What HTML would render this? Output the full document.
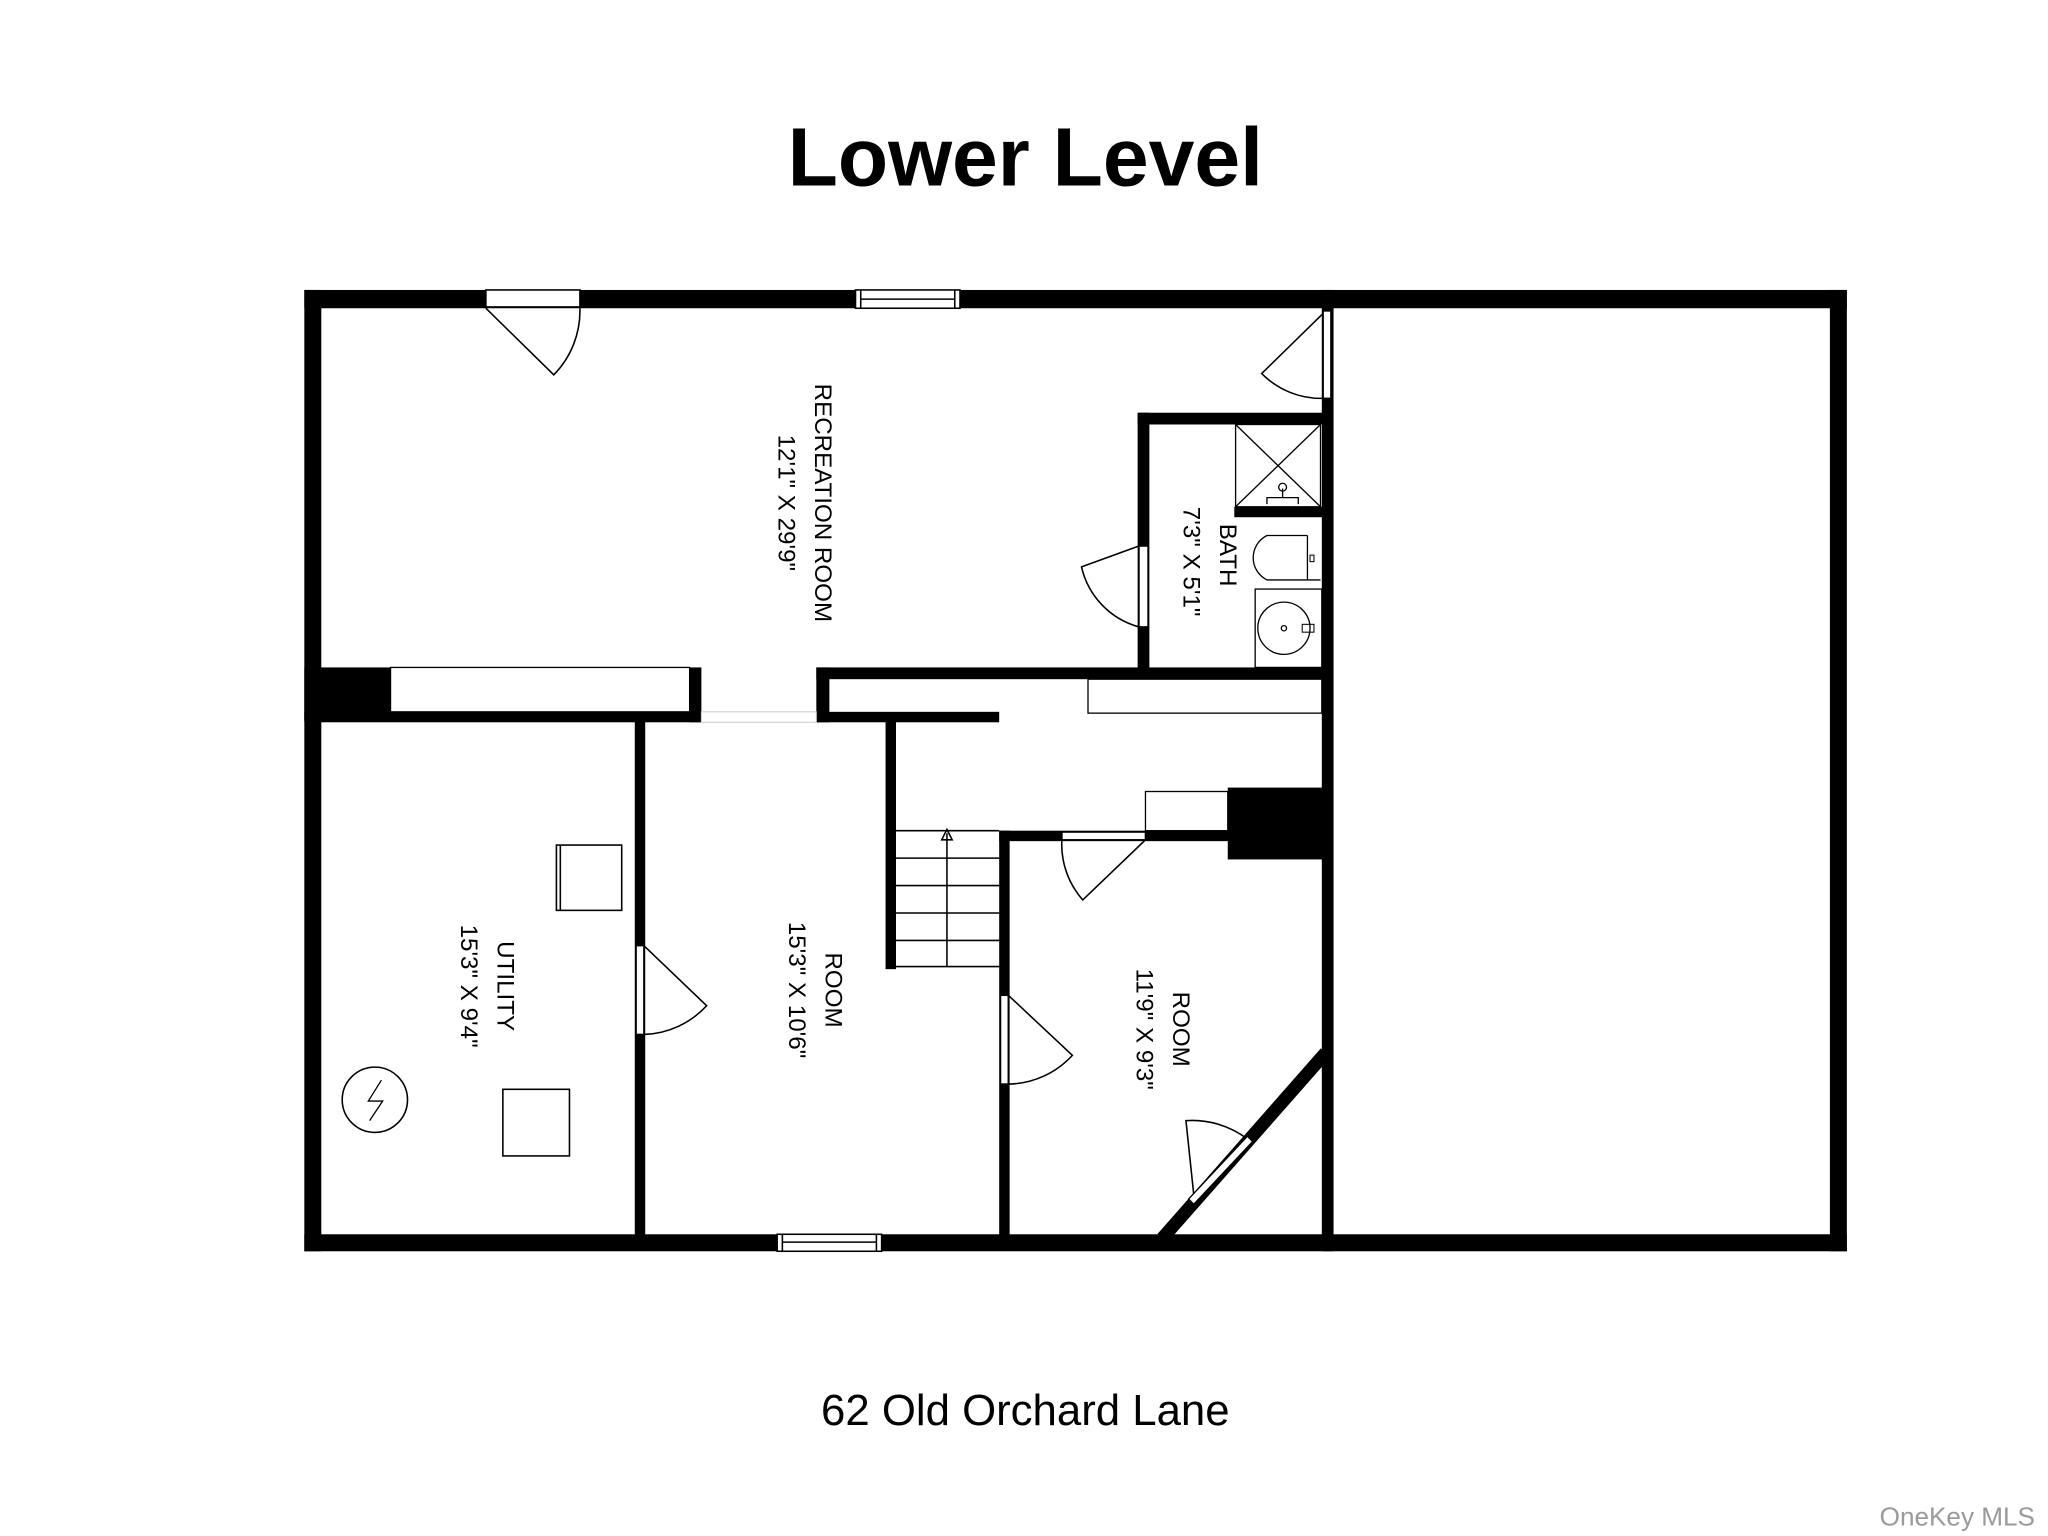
<!DOCTYPE html>
<html><head><style>
html,body{margin:0;padding:0;background:#fff;}
svg{display:block;}
text{font-family:"Liberation Sans",sans-serif;fill:#000;}
</style></head><body>
<svg width="2048" height="1536" viewBox="0 0 1568 1176" xmlns="http://www.w3.org/2000/svg">
<rect width="1568" height="1176" fill="#fff"/>
<text x="785" y="142" text-anchor="middle" font-size="63" font-weight="bold">Lower Level</text>
<text x="785" y="1091" text-anchor="middle" font-size="33.5">62 Old Orchard Lane</text>
<text x="1558" y="1168" text-anchor="end" font-size="20" style="fill:#9a9a9a">OneKey MLS</text>

<g fill="#000">
<rect x="233" y="222" width="1181" height="14"/>
<rect x="233" y="945" width="1181" height="13"/>
<rect x="233" y="222" width="13" height="736"/>
<rect x="1401" y="222" width="13" height="736"/>
<rect x="1012" y="222" width="9" height="736"/>
<rect x="233" y="511" width="66" height="41"/>
<rect x="233" y="545" width="304" height="8"/>
<rect x="528" y="511" width="9" height="42"/>
<rect x="625" y="511" width="10" height="42"/>
<rect x="625" y="511" width="392" height="9"/>
<rect x="625" y="545" width="140" height="8"/>
<rect x="871" y="316" width="9" height="200"/>
<rect x="871" y="316" width="146" height="9"/>
<rect x="945" y="388" width="72" height="8"/>
<rect x="486" y="552" width="8" height="400"/>
<rect x="678" y="552" width="8" height="190"/>
<rect x="765" y="636" width="8" height="315"/>
<rect x="765" y="636" width="180" height="8"/>
<rect x="940" y="603" width="77" height="55"/>
<line x1="1015" y1="806" x2="890" y2="948" stroke="#000" stroke-width="10"/>
</g>

<g fill="#fff" stroke="#000" stroke-width="1.2">
<rect x="299" y="511" width="229" height="34" stroke-width="1"/>
<rect x="537" y="545" width="88" height="8" stroke="#ccc" stroke-width="0.8"/>
<rect x="372" y="222" width="72" height="13"/>
<rect x="655" y="222" width="80" height="14"/>
<line x1="659" y1="229" x2="731" y2="229"/>
<line x1="659" y1="222" x2="659" y2="236"/><line x1="731" y1="222" x2="731" y2="236"/>
<rect x="595" y="945" width="80" height="13"/>
<line x1="599" y1="951" x2="671" y2="951"/>
<line x1="599" y1="945" x2="599" y2="958"/><line x1="671" y1="945" x2="671" y2="958"/>
<rect x="1013" y="238" width="6" height="67"/>
<rect x="872" y="418" width="7" height="62"/>
<rect x="487" y="724" width="6" height="68"/>
<rect x="766" y="762" width="6" height="68"/>
<rect x="813" y="637" width="64" height="6"/>
<rect x="833" y="520" width="179" height="26" stroke-width="1"/>
<rect x="877" y="606" width="63" height="30" stroke-width="1"/>
<rect x="426" y="647" width="50" height="50"/>
<line x1="429" y1="647" x2="429" y2="697"/>
<rect x="385" y="834" width="51" height="51"/>
<circle cx="287" cy="842" r="25"/>
</g>

<g fill="none" stroke="#000" stroke-width="1.2">
<path d="M372 236 L424 287 A70 70 0 0 0 444 236"/>
<path d="M1013 240 L966 286 A64 64 0 0 0 1013 305"/>
<path d="M872 418 L828 434 A62 62 0 0 0 872 480"/>
<path d="M493 724 L541 770 A68 68 0 0 1 493 792"/>
<path d="M772 762 L821 808 A68 68 0 0 1 772 830"/>
<path d="M877 643 L829 689 A64 64 0 0 1 813 643"/>
<path d="M914 915 L908 858 A70 70 0 0 1 955 872"/>
<path d="M955 870 L910 918 L914 922 L959 874 Z" fill="#fff" stroke-width="1"/>
<line x1="686" y1="636" x2="765" y2="636"/>
<line x1="686" y1="657" x2="765" y2="657"/>
<line x1="686" y1="678" x2="765" y2="678"/>
<line x1="686" y1="699" x2="765" y2="699"/>
<line x1="686" y1="720" x2="765" y2="720"/>
<line x1="686" y1="740" x2="765" y2="740"/>
<line x1="725" y1="638" x2="725" y2="740"/>
<path d="M721 643 L725 635 L729 643 Z"/>
<rect x="946" y="325" width="65" height="63" stroke-width="1"/>
<line x1="946" y1="325" x2="1011" y2="388" stroke-width="1"/>
<line x1="1011" y1="325" x2="946" y2="388" stroke-width="1"/>
<path d="M970 386 L970 381 L994 381 L994 386 M982 381 L982 374" stroke-width="1"/>
<circle cx="982" cy="373" r="3" stroke-width="1"/>
<path d="M1001 410 L970 410 A19 19 0 0 0 970 444 L1011 444" stroke-width="1"/>
<line x1="1001" y1="410" x2="1001" y2="444" stroke-width="1"/>
<rect x="1003" y="425" width="3" height="5" stroke-width="0.8"/>
<rect x="961" y="451" width="51" height="60" stroke-width="1"/>
<circle cx="983" cy="481" r="20" stroke-width="1"/>
<circle cx="983" cy="481" r="2" stroke-width="1"/>
<rect x="997" y="478" width="9" height="6" stroke-width="0.8"/>
<path d="M292 827 L282 843 L293 843 L283 858" stroke-width="1"/>
</g>

<g font-size="18.5">
<g transform="translate(624,385) rotate(90)"><text x="0" y="0" text-anchor="middle">RECREATION ROOM</text></g>
<g transform="translate(596,385) rotate(90)"><text x="0" y="0" text-anchor="middle">12'1" X 29'9"</text></g>
<g transform="translate(934,425) rotate(90)"><text x="0" y="0" text-anchor="middle">BATH</text></g>
<g transform="translate(906,430) rotate(90)"><text x="0" y="0" text-anchor="middle">7'3" X 5'1"</text></g>
<g transform="translate(381,755) rotate(90)"><text x="0" y="0" text-anchor="middle">UTILITY</text></g>
<g transform="translate(353,755) rotate(90)"><text x="0" y="0" text-anchor="middle">15'3" X 9'4"</text></g>
<g transform="translate(632,758) rotate(90)"><text x="0" y="0" text-anchor="middle">ROOM</text></g>
<g transform="translate(604,758) rotate(90)"><text x="0" y="0" text-anchor="middle">15'3" X 10'6"</text></g>
<g transform="translate(898,788) rotate(90)"><text x="0" y="0" text-anchor="middle">ROOM</text></g>
<g transform="translate(870,788) rotate(90)"><text x="0" y="0" text-anchor="middle">11'9" X 9'3"</text></g>
</g>
</svg>
</body></html>
